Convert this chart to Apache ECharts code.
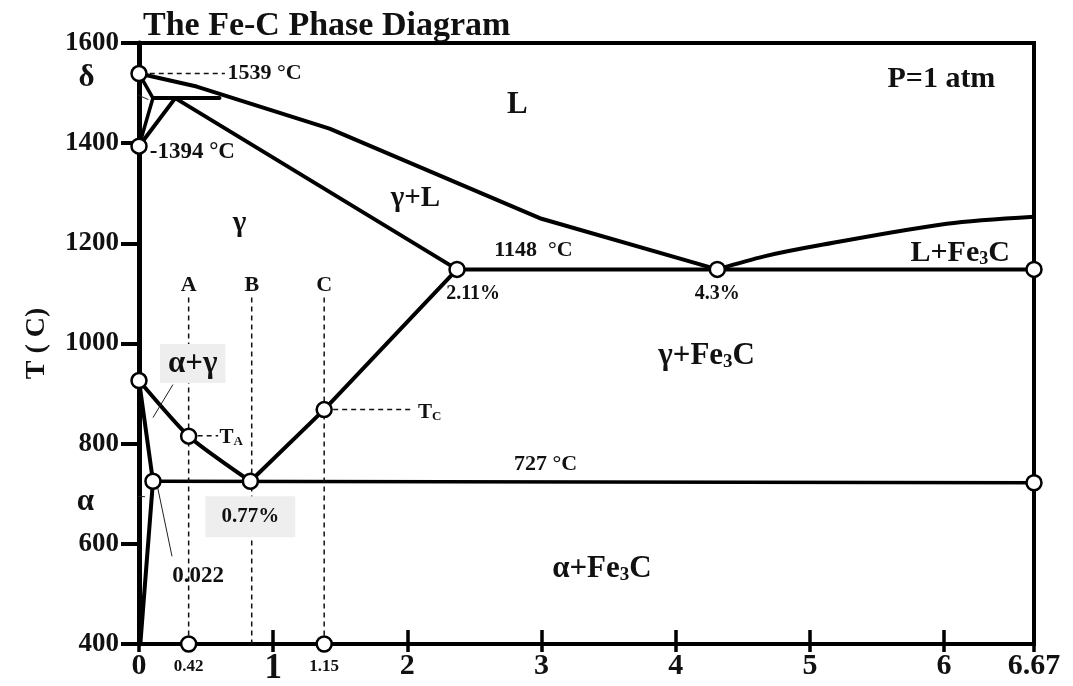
<!DOCTYPE html>
<html><head><meta charset="utf-8">
<script src="https://cdn.jsdelivr.net/npm/echarts@6/dist/echarts.min.js"></script>
<style>html,body{margin:0;padding:0;background:#fff}#c{width:1073px;height:686px}</style>
</head><body><div id="c"></div>
<script>
// ---------- data (carbon wt% , temperature °C) ----------
const xTickValues = [0, 1, 2, 3, 4, 5, 6, 6.67];
const yTickValues = [400, 600, 800, 1000, 1200, 1400, 1600];

const liquidusLeft  = [[0, 1539], [0.43, 1513], [1.42, 1429], [3.0, 1249], [4.31, 1148]];
const liquidusRight = [[4.31, 1148], [4.66, 1174], [5.07, 1196], [6.02, 1239], [6.67, 1253]];
const solidus       = [[0.27, 1490], [2.37, 1148]];
const peritectic    = [[0.104, 1490], [0.6, 1490]];
const deltaOuter    = [[0, 1539], [0.104, 1490], [0, 1394]];
const deltaInner    = [[0.27, 1490], [0, 1394]];
const eutectic      = [[2.37, 1148], [6.67, 1148]];
const a3Line        = [[0, 926], [0.37, 815], [0.83, 725]];
const acmLine       = [[0.83, 725], [1.38, 868], [2.37, 1148]];
const eutectoid     = [[0.104, 725], [6.67, 722]];
const alphaUpper    = [[0, 926], [0.104, 725]];
const alphaSolvus   = [[0.104, 725], [0.01, 400]];

const alloyA = [[0.37, 1092], [0.37, 400]];
const alloyB = [[0.84, 1092], [0.84, 400]];
const alloyC = [[1.38, 1092], [1.38, 400]];
const dash1539 = [[0.08, 1539], [0.64, 1539]];
const dashTA   = [[0.37, 816], [0.59, 816]];
const dashTC   = [[1.38, 868], [2.03, 868]];

const leaderDelta = [[-0.33, 1535], [0.07, 1487]];
const leaderAlpha = [[-0.27, 700], [0.045, 694]];
const leader022   = [[0.246, 575], [0.134, 719]];
const leaderAG    = [[0.253, 918], [0.104, 852]];

const keyPoints = [[0, 1539], [0, 1394], [0, 926], [0.104, 725], [0.37, 815], [0.83, 725],
  [1.38, 868], [2.37, 1148], [4.31, 1148], [6.67, 1148], [6.67, 722], [0.37, 400], [1.38, 400]];

const axisMarks = [['0.42', 0.37, 400], ['1.15', 1.38, 400]];

const annotations = [
  ['L', 2.82, 1477], ['P=1 atm', 5.98, 1527], ['γ+L', 2.06, 1289], ['γ', 0.75, 1239],
  ['1148  °C', 2.94, 1186], ['2.11%', 2.49, 1100], ['4.3%', 4.31, 1100],
  ['L+Fe{s|3}C', 6.12, 1180], ['γ+Fe{s|3}C', 4.23, 975], ['727 °C', 3.03, 759],
  ['α+Fe{s|3}C', 3.45, 549], ['0.77%', 0.83, 654], ['0.022', 0.44, 535],
  ['α+γ', 0.40, 960], ['α', -0.40, 684], ['δ', -0.39, 1531],
  ['A', 0.37, 1116], ['B', 0.84, 1116], ['C', 1.38, 1116]
];
const leftAnnotations = [
  ['1539 °C', 0.66, 1539], ['-1394 °C', 0.08, 1383], ['T{t|A}', 0.60, 813], ['T{t|C}', 2.08, 862]
];

// ---------- styling ----------
const F = '"Liberation Serif","Times New Roman",serif';
const INK = '#111';
const sizeOf = {
  'L': 31, 'P=1 atm': 30, 'γ+L': 29, 'γ': 29, '1148  °C': 22, '2.11%': 20, '4.3%': 20,
  'L+Fe{s|3}C': 30, 'γ+Fe{s|3}C': 31, '727 °C': 22, 'α+Fe{s|3}C': 31, '0.77%': 21,
  '0.022': 23, 'α+γ': 31, 'α': 31, 'δ': 31, 'A': 22, 'B': 22, 'C': 22,
  '1539 °C': 22, '-1394 °C': 23, 'T{t|A}': 21, 'T{t|C}': 21
};
const boxed = {'α+γ': [4, 8, 4, 8], '0.77%': [10, 16, 10, 16]};

function lab(text, align) {
  const fs = sizeOf[text] || 22;
  const l = {
    show: true, formatter: text, position: 'inside', align: align || 'center',
    fontFamily: F, fontWeight: 'bold', fontSize: fs, lineHeight: fs, color: INK, opacity: 1,
    rich: {
      s: {fontFamily: F, fontWeight: 'bold', fontSize: Math.round(fs * 0.6), lineHeight: 2, verticalAlign: 'bottom', color: INK},
      t: {fontFamily: F, fontWeight: 'bold', fontSize: Math.round(fs * 0.62), lineHeight: 4, verticalAlign: 'bottom', color: INK}
    }
  };
  if (boxed[text]) { l.backgroundColor = '#eeeeee'; l.padding = boxed[text]; }
  return l;
}

function line(data, opt) {
  return Object.assign({
    type: 'line', data: data, showSymbol: false, symbol: 'none', clip: false, z: 3,
    lineStyle: {color: '#000', width: 4, cap: 'round', join: 'round'},
    emphasis: {disabled: true}, silent: true, animation: false
  }, opt || {});
}
const thin = {lineStyle: {color: '#222', width: 1}};
const dashed = {lineStyle: {color: '#111', width: 1.5, type: [5, 4]}};
const hidden = {color: 'rgba(0,0,0,0)', opacity: 1};

const series = [
  line(liquidusLeft), line(liquidusRight, {smooth: 0.3}), line(solidus), line(peritectic),
  line(deltaOuter, {lineStyle: {color: '#000', width: 3.5}}), line(deltaInner),
  line(eutectic), line(a3Line, {smooth: 0.2}), line(acmLine), line(eutectoid, {lineStyle: {color: '#000', width: 3.5}}),
  line(alphaUpper), line(alphaSolvus),
  line(alloyA, dashed), line(alloyB, dashed), line(alloyC, dashed),
  line(dash1539, dashed), line(dashTA, dashed), line(dashTC, dashed),
  line(leaderDelta, thin), line(leaderAlpha, thin), line(leader022, thin), line(leaderAG, thin),
  {
    type: 'scatter', data: keyPoints, symbol: 'circle', symbolSize: 15, clip: false, z: 6,
    itemStyle: {color: '#fff', borderColor: '#000', borderWidth: 2.5, opacity: 1}, silent: true, animation: false
  },
  {
    type: 'scatter', clip: false, z: 7, symbolSize: 1, itemStyle: hidden, silent: true, animation: false,
    data: axisMarks.map(a => ({value: [a[1], a[2]], label: {show: true, formatter: a[0], position: 'bottom', distance: 14,
      fontFamily: F, fontWeight: 'bold', fontSize: 17, color: INK}}))
  },
  {
    type: 'scatter', clip: false, z: 7, symbolSize: 1, itemStyle: hidden, silent: true, animation: false,
    data: annotations.map(a => ({value: [a[1], a[2]], label: lab(a[0])}))
  },
  {
    type: 'scatter', clip: false, z: 7, symbolSize: 1, itemStyle: hidden, silent: true, animation: false,
    data: leftAnnotations.map(a => ({value: [a[1], a[2]], label: lab(a[0], 'left')}))
  }
];

const chart = echarts.init(document.getElementById('c'), null, {renderer: 'canvas'});
chart.setOption({
  backgroundColor: '#fff',
  animation: false,
  title: {text: 'The Fe-C Phase Diagram', left: 138, top: 4,
    textStyle: {fontFamily: F, fontWeight: 'bold', fontSize: 34, color: INK}},
  grid: {left: 139, right: 39, top: 43, bottom: 38, show: true, borderColor: '#000', borderWidth: 4, backgroundColor: 'transparent'},
  xAxis: [{
    type: 'value', min: 0, max: 6.67, interval: 1, position: 'bottom',
    axisLine: {lineStyle: {color: '#000', width: 4}},
    axisTick: {show: true, length: 8, lineStyle: {color: '#000', width: 3.5}},
    splitLine: {show: false},
    axisLabel: {
      margin: 7, fontFamily: F, fontWeight: 'bold', fontSize: 30, color: INK,
      formatter: v => {
        const hit = xTickValues.find(t => Math.abs(t - v) < 1e-6);
        if (hit === undefined) return '';
        return hit === 1 ? '{b|1}' : String(hit);
      },
      rich: {b: {fontFamily: F, fontWeight: 'bold', fontSize: 35, color: INK}}
    }
  }, {
    type: 'value', min: 0, max: 6.67, interval: 1, position: 'bottom',
    axisLine: {show: false}, axisLabel: {show: false}, splitLine: {show: false},
    axisTick: {show: true, inside: true, length: 14, lineStyle: {color: '#000', width: 3.5}}
  }],
  yAxis: {
    type: 'value', min: yTickValues[0], max: yTickValues[yTickValues.length - 1], interval: 200,
    name: 'T ( C)', nameLocation: 'middle', nameGap: 88, nameRotate: 90,
    nameTextStyle: {fontFamily: F, fontWeight: 'bold', fontSize: 28, color: INK},
    axisLine: {lineStyle: {color: '#000', width: 5}},
    axisTick: {show: true, length: 18, lineStyle: {color: '#000', width: 4}},
    splitLine: {show: false},
    axisLabel: {margin: 20, fontFamily: F, fontWeight: 'bold', fontSize: 27, color: INK,
      formatter: v => String(v)}
  },
  series: series
});
</script>
</body></html>
